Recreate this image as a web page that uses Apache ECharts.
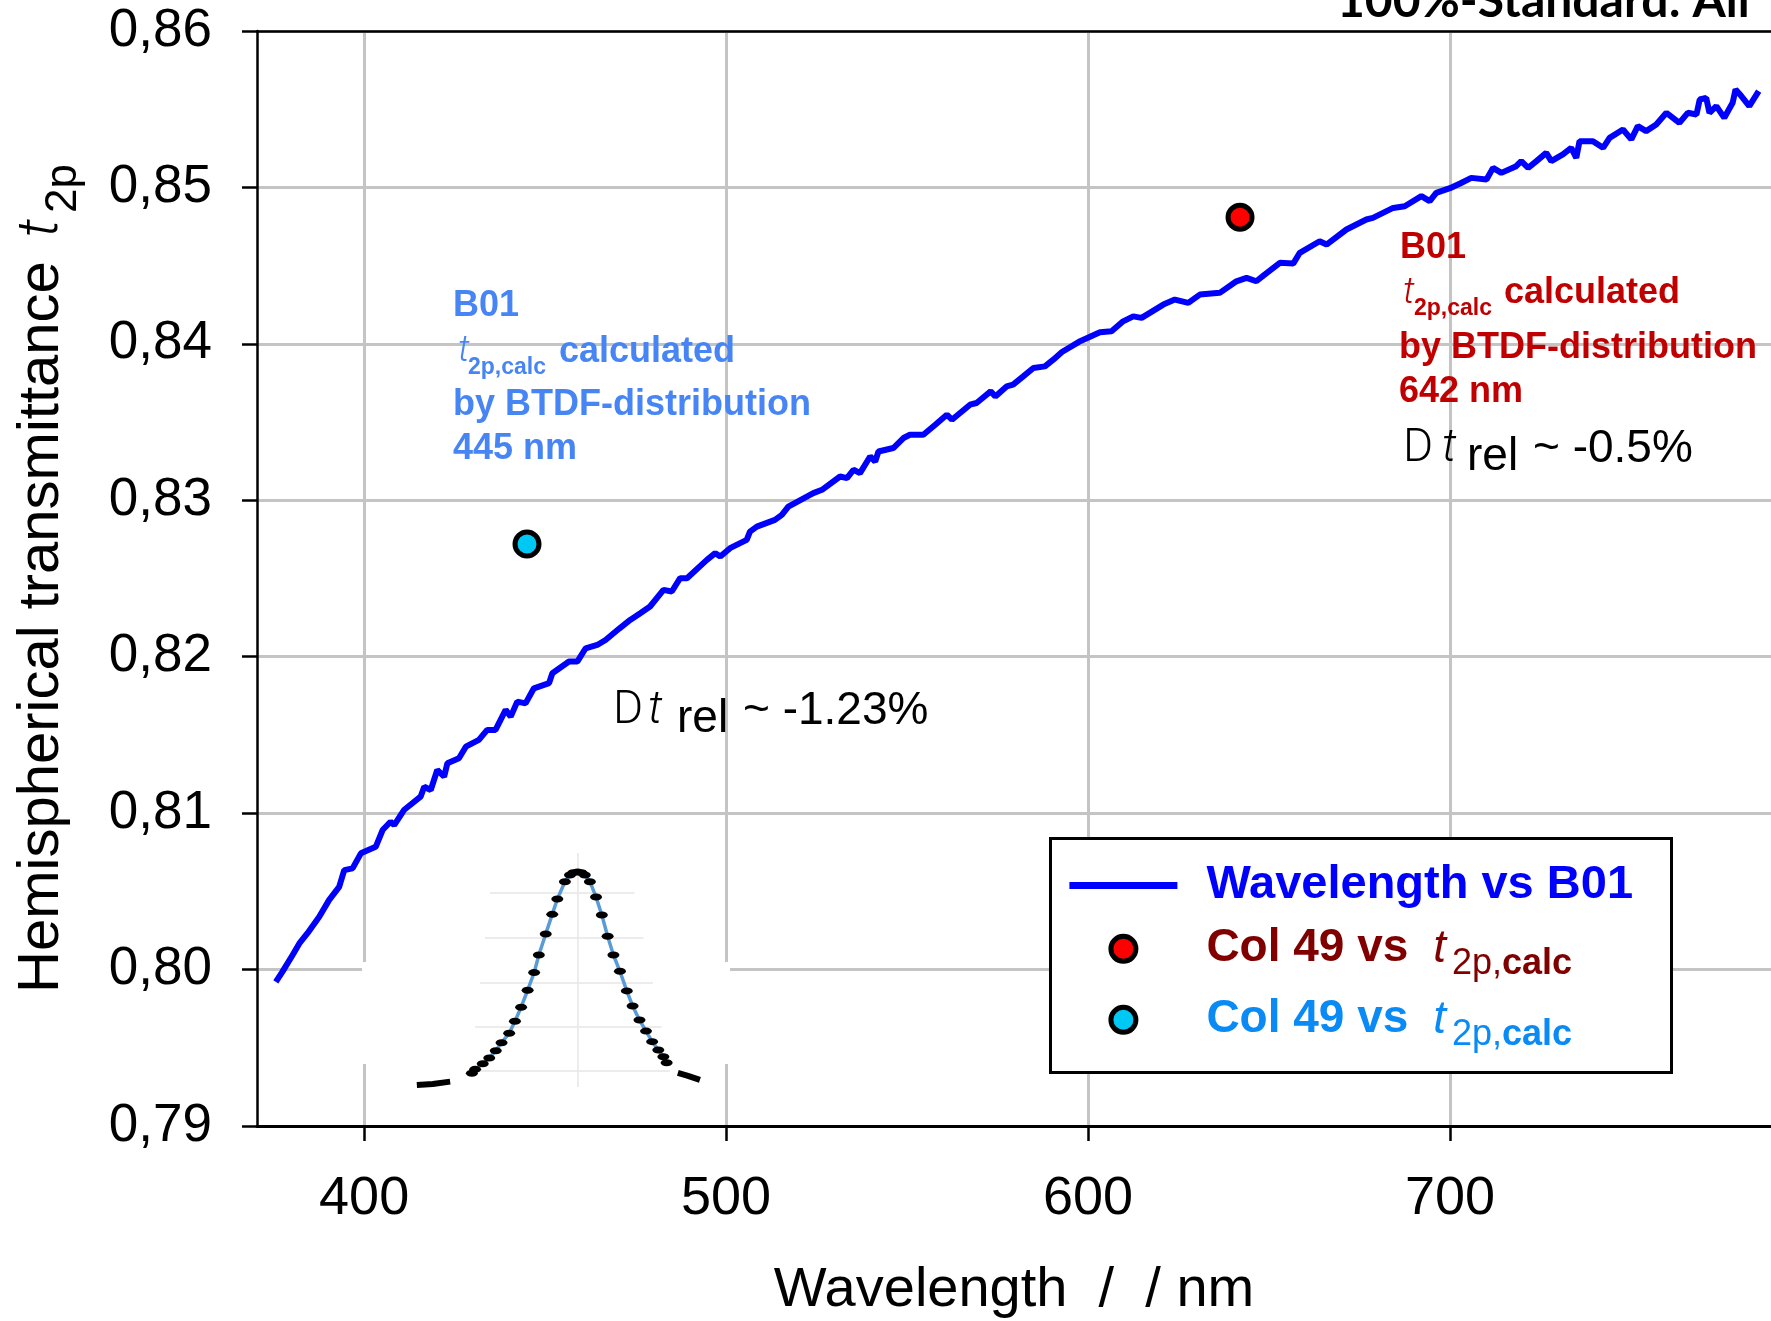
<!DOCTYPE html>
<html>
<head>
<meta charset="utf-8">
<title>B01 hemispherical transmittance</title>
<script src="https://cdn.jsdelivr.net/npm/echarts@6/dist/echarts.min.js"></script>
<style>
  html, body { margin: 0; padding: 0; background: #fff; }
  #main { width: 1771px; height: 1321px; }
</style>
</head>
<body>
<div id="main"></div>
<script>
// measured spectrum of sample B01 (nm, hemispherical transmittance)
const b01Wavelength = [
  375.6, 377.4, 380.2, 382.1, 384.3, 387.6, 390.3, 393.1, 394.5, 396.8, 399.1,
  403.2, 405.1, 407.3, 408.3, 411.0, 415.6, 416.6, 418.4, 420.2, 422.1, 423.0,
  426.2, 428.1, 431.7, 434.0, 436.3, 439.1, 440.5, 442.3, 444.6, 446.9, 451.1,
  452.0, 456.6, 458.9, 461.2, 464.4, 466.7, 470.5, 473.5, 476.3, 479.0, 482.7,
  485.0, 487.3, 489.2, 494.7, 497.0, 498.4, 501.1, 505.7, 506.6, 508.5, 513.5,
  515.4, 517.2, 524.1, 526.5, 531.5, 533.4, 535.2, 537.0, 539.8, 541.2, 542.1,
  546.2, 549.0, 550.8, 554.5, 557.8, 561.0, 562.4, 567.4, 569.2, 573.1, 574.4,
  577.5, 579.3, 582.1, 584.9, 588.1, 590.4, 592.8, 597.5, 603.3, 606.5, 609.7,
  612.5, 614.8, 620.8, 624.0, 627.7, 630.9, 636.4, 641.0, 643.8, 646.5, 648.8,
  653.0, 656.7, 658.5, 664.0, 665.9, 671.4, 676.9, 678.7, 684.3, 687.5, 692.1,
  694.4, 696.2, 700.0, 702.8, 705.9, 710.1, 711.9, 714.2, 718.3, 719.7, 721.6,
  723.9, 726.6, 728.0, 731.2, 733.5, 734.9, 735.8, 739.5, 742.3, 744.1, 747.8,
  750.1, 751.9, 754.2, 757.0, 759.8, 763.4, 765.7, 768.1, 769.0, 770.8, 771.7,
  773.6, 775.8, 778.1, 778.9, 780.5, 782.7, 785.3
];
const b01Transmittance = [
  0.79921, 0.79985, 0.80092, 0.80167, 0.80231, 0.80337, 0.80444, 0.80529, 0.80636, 0.80647, 0.80743,
  0.80785, 0.80892, 0.80945, 0.80924, 0.81020, 0.81105, 0.81169, 0.81148, 0.81276, 0.81233, 0.81319,
  0.81351, 0.81425, 0.81468, 0.81532, 0.81532, 0.81660, 0.81617, 0.81713, 0.81702, 0.81798, 0.81831,
  0.81894, 0.81969, 0.81969, 0.82054, 0.82075, 0.82107, 0.82180, 0.82235, 0.82278, 0.82321, 0.82427,
  0.82417, 0.82502, 0.82502, 0.82619, 0.82662, 0.82640, 0.82694, 0.82747, 0.82800, 0.82832, 0.82875,
  0.82907, 0.82960, 0.83046, 0.83067, 0.83152, 0.83142, 0.83195, 0.83174, 0.83280, 0.83248, 0.83312,
  0.83334, 0.83398, 0.83419, 0.83419, 0.83483, 0.83547, 0.83515, 0.83611, 0.83622, 0.83696, 0.83664,
  0.83728, 0.83739, 0.83792, 0.83846, 0.83856, 0.83899, 0.83948, 0.84013, 0.84074, 0.84080, 0.84144,
  0.84176, 0.84166, 0.84251, 0.84283, 0.84262, 0.84315, 0.84326, 0.84400, 0.84422, 0.84400, 0.84443,
  0.84518, 0.84513, 0.84582, 0.84656, 0.84635, 0.84731, 0.84795, 0.84805, 0.84869, 0.84880, 0.84944,
  0.84912, 0.84965, 0.84995, 0.85025, 0.85061, 0.85051, 0.85125, 0.85093, 0.85136, 0.85168, 0.85125,
  0.85168, 0.85221, 0.85168, 0.85211, 0.85253, 0.85189, 0.85296, 0.85296, 0.85253, 0.85317, 0.85370,
  0.85307, 0.85392, 0.85360, 0.85402, 0.85477, 0.85413, 0.85477, 0.85466, 0.85562, 0.85573, 0.85477,
  0.85520, 0.85445, 0.85541, 0.85626, 0.85584, 0.85520, 0.85616
];

// calculated t2p values from the BTDF distribution
const calcRedWavelength = [642];
const calcRedValue = [0.8481];
const calcCyanWavelength = [445];
const calcCyanValue = [0.8272];

// small inset: normalised source spectrum (dots on the blue curve)
const insetX = [
  429.8, 430.7, 432.8, 434.6, 436.4, 438.0, 440.1, 441.7, 443.4, 445.2, 447.0,
  448.3, 450.2, 452.0, 453.4, 455.5, 456.9, 457.8, 459.0, 460.1, 461.0, 462.4,
  464.1, 465.7, 467.3, 468.9, 470.7, 472.6, 474.2, 476.1, 477.9, 479.6, 481.3,
  482.7, 483.6
];
const insetY = [
  0.064, 0.082, 0.108, 0.135, 0.169, 0.206, 0.250, 0.306, 0.371, 0.450, 0.532,
  0.614, 0.712, 0.803, 0.874, 0.955, 0.986, 0.997, 1.000, 0.997, 0.986, 0.955,
  0.884, 0.800, 0.701, 0.614, 0.538, 0.447, 0.377, 0.312, 0.260, 0.211, 0.172,
  0.141, 0.113
];
const insetLeftTailX = [414.6, 419.0, 423.8];
const insetLeftTailY = [0.009, 0.014, 0.025];
const insetRightTailX = [486.7, 489.5, 492.8];
const insetRightTailY = [0.066, 0.052, 0.033];
const insetGridY = [0.904, 0.696, 0.487, 0.280, 0.074];
const insetGridFrom = [434.8, 433.4, 432.0, 430.7, 429.3];
const insetGridTo = [474.7, 477.2, 479.8, 482.2, 484.5];

const xTicks = [400, 500, 600, 700];
const xMin = 370.4, xMax = 788.7;

const SANS = '"Liberation Sans", Arial, Helvetica, sans-serif';
const LIGHT = 'Roboto, "Liberation Sans", sans-serif';

const zip = (a, b) => a.map((v, i) => [v, b[i]]);

function txt(text, x, y, size, color, extra) {
  return {
    type: 'text', x: x, y: y, z: 10, silent: true,
    style: Object.assign({
      text: text, fontFamily: SANS, fontSize: size, fill: color,
      align: 'left', verticalAlign: 'middle'
    }, extra || {})
  };
}
const bold = { fontWeight: 'bold' };
const lightItalic = { fontFamily: LIGHT, fontWeight: 300, fontStyle: 'italic' };
const light = { fontFamily: LIGHT, fontWeight: 300 };

const BLUE_TXT = '#4785f5';
const RED_TXT = '#c00000';

function legendRich(color) {
  return {
    b: { fontFamily: SANS, fontSize: 46, fontWeight: 'bold', color: color, lineHeight: 25, padding: [0, 0, 0, 24] },
    w: { fontFamily: SANS, fontSize: 47, fontWeight: 'bold', color: color, lineHeight: 25, padding: [0, 0, 0, 24] },
    i: { fontFamily: SANS, fontSize: 46, fontStyle: 'italic', color: color, lineHeight: 25, padding: [0, 0, 0, 12] },
    s: { fontFamily: SANS, fontSize: 36, color: color, lineHeight: 25, padding: [30, 0, 0, 6] },
    sb: { fontFamily: SANS, fontSize: 36, fontWeight: 'bold', color: color, lineHeight: 25, padding: [30, 0, 0, 0] }
  };
}
function oneLegend(name, left, top, iconH, fmt, color, item) {
  return {
    show: true, orient: 'vertical', left: left, top: top, padding: 0, z: 10,
    itemWidth: 108, itemHeight: iconH, selectedMode: false,
    data: [Object.assign({ name: name }, item)],
    formatter: fmt,
    textStyle: { color: color, rich: legendRich(color) }
  };
}

const chart = echarts.init(document.getElementById('main'));

chart.setOption({
  animation: false,
  backgroundColor: '#ffffff',
  grid: [
    { left: 257, right: 0, top: 31, bottom: 195, outerBoundsMode: 'none', containLabel: false },
    { left: 364, width: 362, top: 850.5, height: 236.5, outerBoundsMode: 'none', containLabel: false }
  ],
  xAxis: [
    {
      type: 'value', gridIndex: 0, min: xMin, max: xMax,
      name: 'Wavelength  /  / nm', nameLocation: 'middle', nameGap: 137,
      nameTextStyle: { fontFamily: SANS, fontSize: 56, color: '#000' },
      axisLine: { show: true, onZero: false, lineStyle: { color: '#000', width: 3 } },
      axisTick: { show: true, length: 15, customValues: xTicks, lineStyle: { color: '#000', width: 2.5 } },
      axisLabel: { customValues: xTicks, margin: 46, fontFamily: SANS, fontSize: 54, color: '#000' },
      splitLine: { show: true, lineStyle: { color: '#c4c4c4', width: 3 } }
    },
    {
      type: 'value', gridIndex: 0, position: 'top', min: xMin, max: xMax,
      axisLine: { show: true, onZero: false, lineStyle: { color: '#000', width: 2.5 } },
      axisTick: { show: false }, axisLabel: { show: false }, splitLine: { show: false }
    },
    {
      type: 'value', gridIndex: 1, min: 400, max: 500, show: false
    }
  ],
  yAxis: [
    {
      type: 'value', gridIndex: 0, min: 0.79, max: 0.86, interval: 0.01,
      name: '{m|Hemispherical transmittance}{i|t}{s|2p}',
      nameLocation: 'middle', nameGap: 186,
      nameTextStyle: {
        color: '#000',
        rich: {
          m: { fontFamily: SANS, fontSize: 58, lineHeight: 58, color: '#000' },
          i: { fontFamily: LIGHT, fontWeight: 300, fontStyle: 'italic', fontSize: 58, lineHeight: 58, color: '#000', padding: [0, 0, 0, 24] },
          s: { fontFamily: SANS, fontSize: 44, lineHeight: 58, color: '#000', padding: [44, 0, 0, 6] }
        }
      },
      axisLine: { show: true, onZero: false, lineStyle: { color: '#000', width: 2.5 } },
      axisTick: { show: true, length: 15, lineStyle: { color: '#000', width: 2.5 } },
      axisLabel: {
        margin: 45, fontFamily: SANS, fontSize: 53, color: '#000',
        formatter: v => v.toFixed(2).replace('.', ',')
      },
      splitLine: { show: true, lineStyle: { color: '#c4c4c4', width: 3 } }
    },
    {
      type: 'value', gridIndex: 1, min: 0, max: 1.1, show: false
    }
  ],
  legend: [
    oneLegend('Wavelength vs B01', 1069.4, 862, 7, '{w|Wavelength vs B01}', '#0000ff',
      { icon: 'rect', itemStyle: { color: '#0000ff', borderWidth: 0 } }),
    oneLegend('Col 49 vs t2p,calc (642 nm)', 1108.4, 915.8, 25, '{b|Col 49 vs }{i|t}{s|2p,}{sb|calc}', '#800000',
      { icon: 'circle', itemStyle: { color: '#ff0000', borderColor: '#000', borderWidth: 5 } }),
    oneLegend('Col 49 vs t2p,calc (445 nm)', 1108.4, 986.8, 25, '{b|Col 49 vs }{i|t}{s|2p,}{sb|calc}', '#0a8af5',
      { icon: 'circle', itemStyle: { color: '#00c8f5', borderColor: '#000', borderWidth: 5 } })
  ],
  series: [
    {
      name: 'Wavelength vs B01', type: 'line', xAxisIndex: 0, yAxisIndex: 0,
      data: zip(b01Wavelength, b01Transmittance),
      symbol: 'none', smooth: false, z: 4,
      lineStyle: { color: '#0000ff', width: 6 }, itemStyle: { color: '#0000ff' }
    },
    {
      name: 'Col 49 vs t2p,calc (642 nm)', type: 'scatter', xAxisIndex: 0, yAxisIndex: 0,
      data: zip(calcRedWavelength, calcRedValue), symbol: 'circle', symbolSize: 24, z: 5,
      itemStyle: { color: '#ff0000', borderColor: '#000', borderWidth: 5, opacity: 1 }
    },
    {
      name: 'Col 49 vs t2p,calc (445 nm)', type: 'scatter', xAxisIndex: 0, yAxisIndex: 0,
      data: zip(calcCyanWavelength, calcCyanValue), symbol: 'circle', symbolSize: 24, z: 5,
      itemStyle: { color: '#00c8f5', borderColor: '#000', borderWidth: 5, opacity: 1 }
    },
    {
      name: 'inset', type: 'line', xAxisIndex: 2, yAxisIndex: 1,
      data: zip(insetX, insetY), z: 6, showAllSymbol: true,
      symbol: 'circle', symbolSize: [12, 7],
      lineStyle: { color: '#5b9bd5', width: 3.5 }, itemStyle: { color: '#000' },
      markLine: {
        silent: true, symbol: ['none', 'none'], label: { show: false },
        lineStyle: { color: '#e6e6e6', width: 1.5, type: 'solid' },
        data: insetGridY.map((y, i) => [{ coord: [insetGridFrom[i], y] }, { coord: [insetGridTo[i], y] }])
          .concat([[{ coord: [459, 0] }, { coord: [459, 1.088] }]])
      }
    },
    {
      name: 'insetLeft', type: 'line', xAxisIndex: 2, yAxisIndex: 1,
      data: zip(insetLeftTailX, insetLeftTailY), z: 6, symbol: 'none',
      lineStyle: { color: '#000', width: 6 }
    },
    {
      name: 'insetRight', type: 'line', xAxisIndex: 2, yAxisIndex: 1,
      data: zip(insetRightTailX, insetRightTailY), z: 6, symbol: 'none',
      lineStyle: { color: '#000', width: 6 }
    }
  ],
  graphic: [
    // white backing of the pasted inset
    { type: 'rect', z: 1, silent: true, shape: { x: 362, y: 962, width: 368, height: 102 }, style: { fill: '#fff' } },
    // legend frame
    { type: 'rect', z: 3, silent: true, shape: { x: 1050.5, y: 838.5, width: 621, height: 234 },
      style: { fill: '#fff', stroke: '#000', lineWidth: 3 } },
    txt('100%-Standard: All', 1337, 1.5, 48, '#000', { fontFamily: 'Lato, "Liberation Sans", sans-serif', fontWeight: 'bold' }),

    // blue annotation (445 nm)
    txt('B01', 453, 306, 36, BLUE_TXT, bold),
    txt('t', 458, 352, 37, BLUE_TXT, lightItalic),
    txt('2p,calc', 468, 368, 23, BLUE_TXT, bold),
    txt('calculated', 559, 352, 36, BLUE_TXT, bold),
    txt('by BTDF-distribution', 453, 405, 36, BLUE_TXT, bold),
    txt('445 nm', 453, 449, 36, BLUE_TXT, bold),

    // red annotation (642 nm)
    txt('B01', 1400, 248, 36, RED_TXT, bold),
    txt('t', 1403, 294, 37, RED_TXT, lightItalic),
    txt('2p,calc', 1414, 308.6, 23, RED_TXT, bold),
    txt('calculated', 1504, 293.4, 36, RED_TXT, bold),
    txt('by BTDF-distribution', 1399, 348, 36, RED_TXT, bold),
    txt('642 nm', 1399, 392, 36, RED_TXT, bold),

    // relative deviations
    txt('D', 613, 711, 46, '#000', light),
    txt('t', 648, 711, 46, '#000', lightItalic),
    txt('rel', 677, 719, 46, '#000'),
    txt('~ -1.23%', 743, 711, 46, '#000'),
    txt('D', 1403, 449, 46, '#000', light),
    txt('t', 1442, 449, 46, '#000', lightItalic),
    txt('rel', 1467, 457, 46, '#000'),
    txt('~ -0.5%', 1533, 449, 46, '#000')
  ]
});
</script>
</body>
</html>
